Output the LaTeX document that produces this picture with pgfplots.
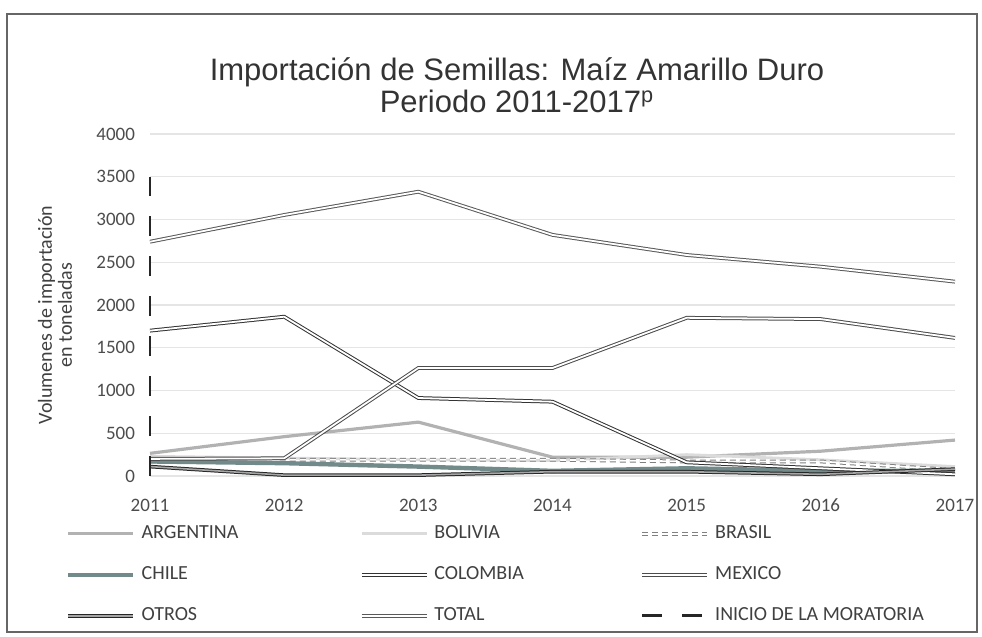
\documentclass[border=0pt]{standalone}
\usepackage{pgfplots}
\pgfplotsset{compat=1.18}
\usepackage{fontspec}
\setmainfont{Carlito}
\newfontfamily\titlefont{Liberation Sans}

\tikzset{
  dbl/.style={draw=#1, double=white, double distance=0.9pt, line width=0.5pt},
}

\begin{document}
\begin{tikzpicture}
\begin{scope}[x=0.5pt,y=0.5pt]
\path (0,0) rectangle (982,637);
\draw[black!60, line width=0.8pt] (7,5) rectangle (977,623);
\node[font=\titlefont\fontsize{15.5}{16.5}\selectfont, text=black!80, anchor=base] at (517,556)
  {Importación de Semillas: Maíz Amarillo Duro};
\node[font=\titlefont\fontsize{15.5}{16.5}\selectfont, text=black!80, anchor=base] at (517,524)
  {Periodo 2011-2017\textsuperscript{p}};
\node[rotate=90, align=center, font=\fontsize{10}{10}\selectfont, text=black!75] at (55,322)
  {Volumenes de importación\\en toneladas};
\end{scope}

\begin{axis}[
  at={(75pt,80.5pt)}, anchor=south west,
  scale only axis, width=402.5pt, height=171pt,
  xmin=2011, xmax=2017, ymin=0, ymax=4000,
  xtick={2011,2012,2013,2014,2015,2016,2017},
  ytick={0,500,...,4000},
  axis line style={draw=none},
  tick style={draw=none},
  ymajorgrids, grid style={black!10, line width=0.6pt},
  /pgf/number format/1000 sep={},
  /pgf/number format/assume math mode=true,
  ticklabel style={font=\fontsize{9.5}{11}\selectfont, text=black!70},
  xticklabel style={yshift=-8pt},
  yticklabel style={xshift=-4pt},
  clip=false,
  legend columns=3,
  legend cell align=left,
  legend image code/.code={\draw[#1] (0pt,0pt) -- (32.5pt,0pt);},
  legend style={at={(-0.112,-0.13)}, anchor=north west, draw=none, fill=none,
    font=\fontsize{10}{10}\selectfont, text=black!75,
    row sep=11.5pt,
    nodes={inner sep=0pt, text height=7pt, text depth=2pt},
    /tikz/every odd column/.append style={column sep=3pt}},
]
\addplot[black!30, line width=1.6pt] coordinates {(2011,265) (2012,460) (2013,630) (2014,220) (2015,220) (2016,290) (2017,420)};
\addlegendentry{\makebox[109pt][l]{ARGENTINA}}
\addplot[black!14, line width=1.4pt] coordinates {(2011,230) (2012,210) (2013,190) (2014,180) (2015,250) (2016,190) (2017,110)};
\addlegendentry{\makebox[103pt][l]{BOLIVIA}}
\addplot[dbl=black!50, densely dashed] coordinates {(2011,170) (2012,190) (2013,190) (2014,190) (2015,170) (2016,170) (2017,70)};
\addlegendentry{BRASIL}
\addplot[color={rgb,255:red,115;green,138;blue,138}, line width=2.2pt] coordinates {(2011,170) (2012,150) (2013,110) (2014,60) (2015,90) (2016,60) (2017,60)};
\addlegendentry{\makebox[109pt][l]{CHILE}}
\addplot[dbl=black!80] coordinates {(2011,1700) (2012,1863) (2013,912) (2014,869) (2015,160) (2016,90) (2017,20)};
\addlegendentry{\makebox[103pt][l]{COLOMBIA}}
\addplot[dbl=black!70] coordinates {(2011,200) (2012,207) (2013,1263) (2014,1263) (2015,1850) (2016,1835) (2017,1615)};
\addlegendentry{MEXICO}
\addplot[draw=black!85, double=black!35, double distance=0.8pt, line width=0.5pt] coordinates {(2011,110) (2012,10) (2013,10) (2014,50) (2015,50) (2016,20) (2017,80)};
\addlegendentry{\makebox[109pt][l]{OTROS}}
\addplot[dbl=black!65] coordinates {(2011,2740) (2012,3053) (2013,3325) (2014,2820) (2015,2585) (2016,2448) (2017,2273)};
\addlegendentry{\makebox[103pt][l]{TOTAL}}
\addplot[black!85, line width=1.4pt, dash pattern=on 10pt off 10pt] coordinates {(2011,0) (2011,3500)};
\addlegendentry{INICIO DE LA MORATORIA}
\end{axis}
\end{tikzpicture}
\end{document}
